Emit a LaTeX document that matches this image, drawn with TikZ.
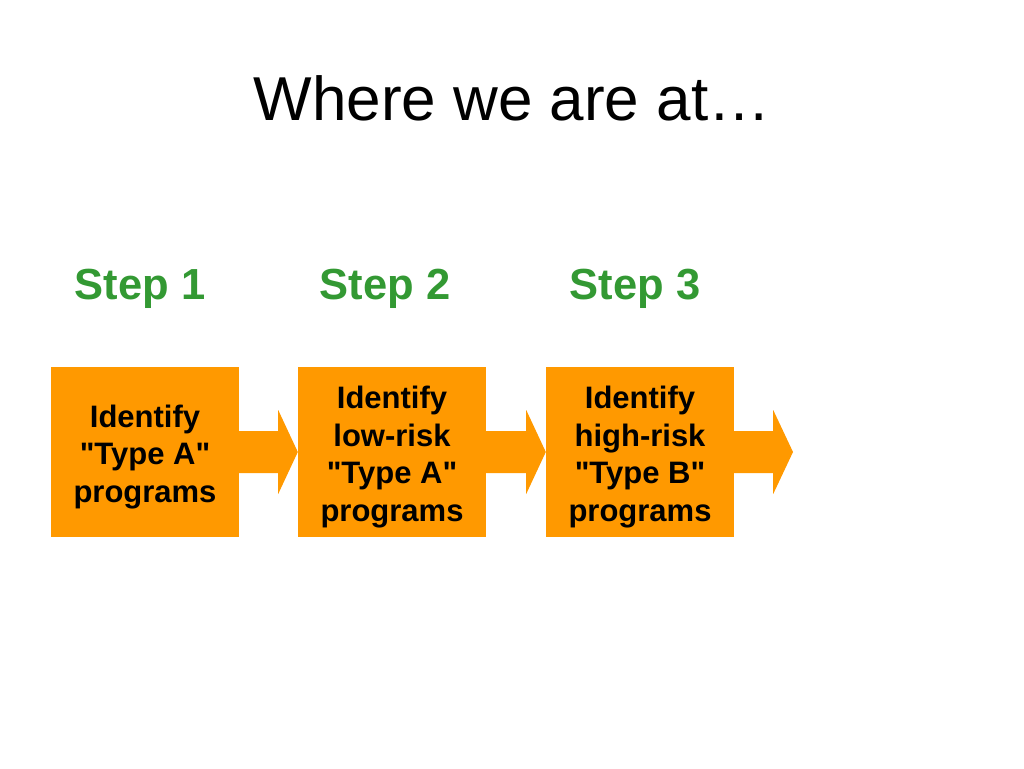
\documentclass[tikz,border=0pt]{standalone}
\usepackage{fontspec}
\setmainfont{Liberation Sans}[Ligatures=TeXOff]
\usetikzlibrary{calc}
\definecolor{boxorange}{RGB}{255,153,0}
\definecolor{stepgreen}{RGB}{51,153,51}
\begin{document}
\begin{tikzpicture}[x=1pt,y=-1pt,
  stepbox/.style={fill=boxorange,draw=none,minimum width=188pt,minimum height=170pt,inner sep=0pt},
  boxtext/.style={align=center,inner sep=0pt,font=\fontsize{31}{37.5}\selectfont\bfseries,text=black},
  steplabel/.style={anchor=base,text=stepgreen,font=\fontsize{43.5}{50}\selectfont\bfseries,inner sep=0pt},
  flowarrow/.style={fill=boxorange,draw=none}]
\useasboundingbox (0,0) rectangle (1024,768);
\fill[white] (0,0) rectangle (1024,768);
\node[anchor=base,inner sep=0pt,font=\fontsize{62}{70}\selectfont] (title) at (512,120) {Where we are at…};
\node[steplabel] (s1) at (140,299) {Step 1};
\node[steplabel] (s2) at (385,299) {Step 2};
\node[steplabel] (s3) at (635,299) {Step 3};
\node[stepbox] (b1) at (145,452) {};
\node[stepbox] (b2) at (392,452) {};
\node[stepbox] (b3) at (640,452) {};
\node[boxtext] (t1) at ($(b1.center)+(0,5)$) {Identify\\"Type A"\\programs};
\node[boxtext] (t2) at ($(b2.center)+(0,5)$) {Identify\\low-risk\\"Type A"\\programs};
\node[boxtext] (t3) at ($(b3.center)+(0,5)$) {Identify\\high-risk\\"Type B"\\programs};
\coordinate (end) at (793,452);
\fill[flowarrow] ($(b1.east)+(0,-21)$) -- ++(39,0) -- ++(0,-21) -- (b2.west) -- ($(b1.east)+(39,42)$) -- ++(0,-21) -- ($(b1.east)+(0,21)$) -- cycle;
\fill[flowarrow] ($(b2.east)+(0,-21)$) -- ++(40,0) -- ++(0,-21) -- (b3.west) -- ($(b2.east)+(40,42)$) -- ++(0,-21) -- ($(b2.east)+(0,21)$) -- cycle;
\fill[flowarrow] ($(b3.east)+(0,-21)$) -- ++(39,0) -- ++(0,-21) -- (end) -- ($(b3.east)+(39,42)$) -- ++(0,-21) -- ($(b3.east)+(0,21)$) -- cycle;
\end{tikzpicture}
\end{document}
